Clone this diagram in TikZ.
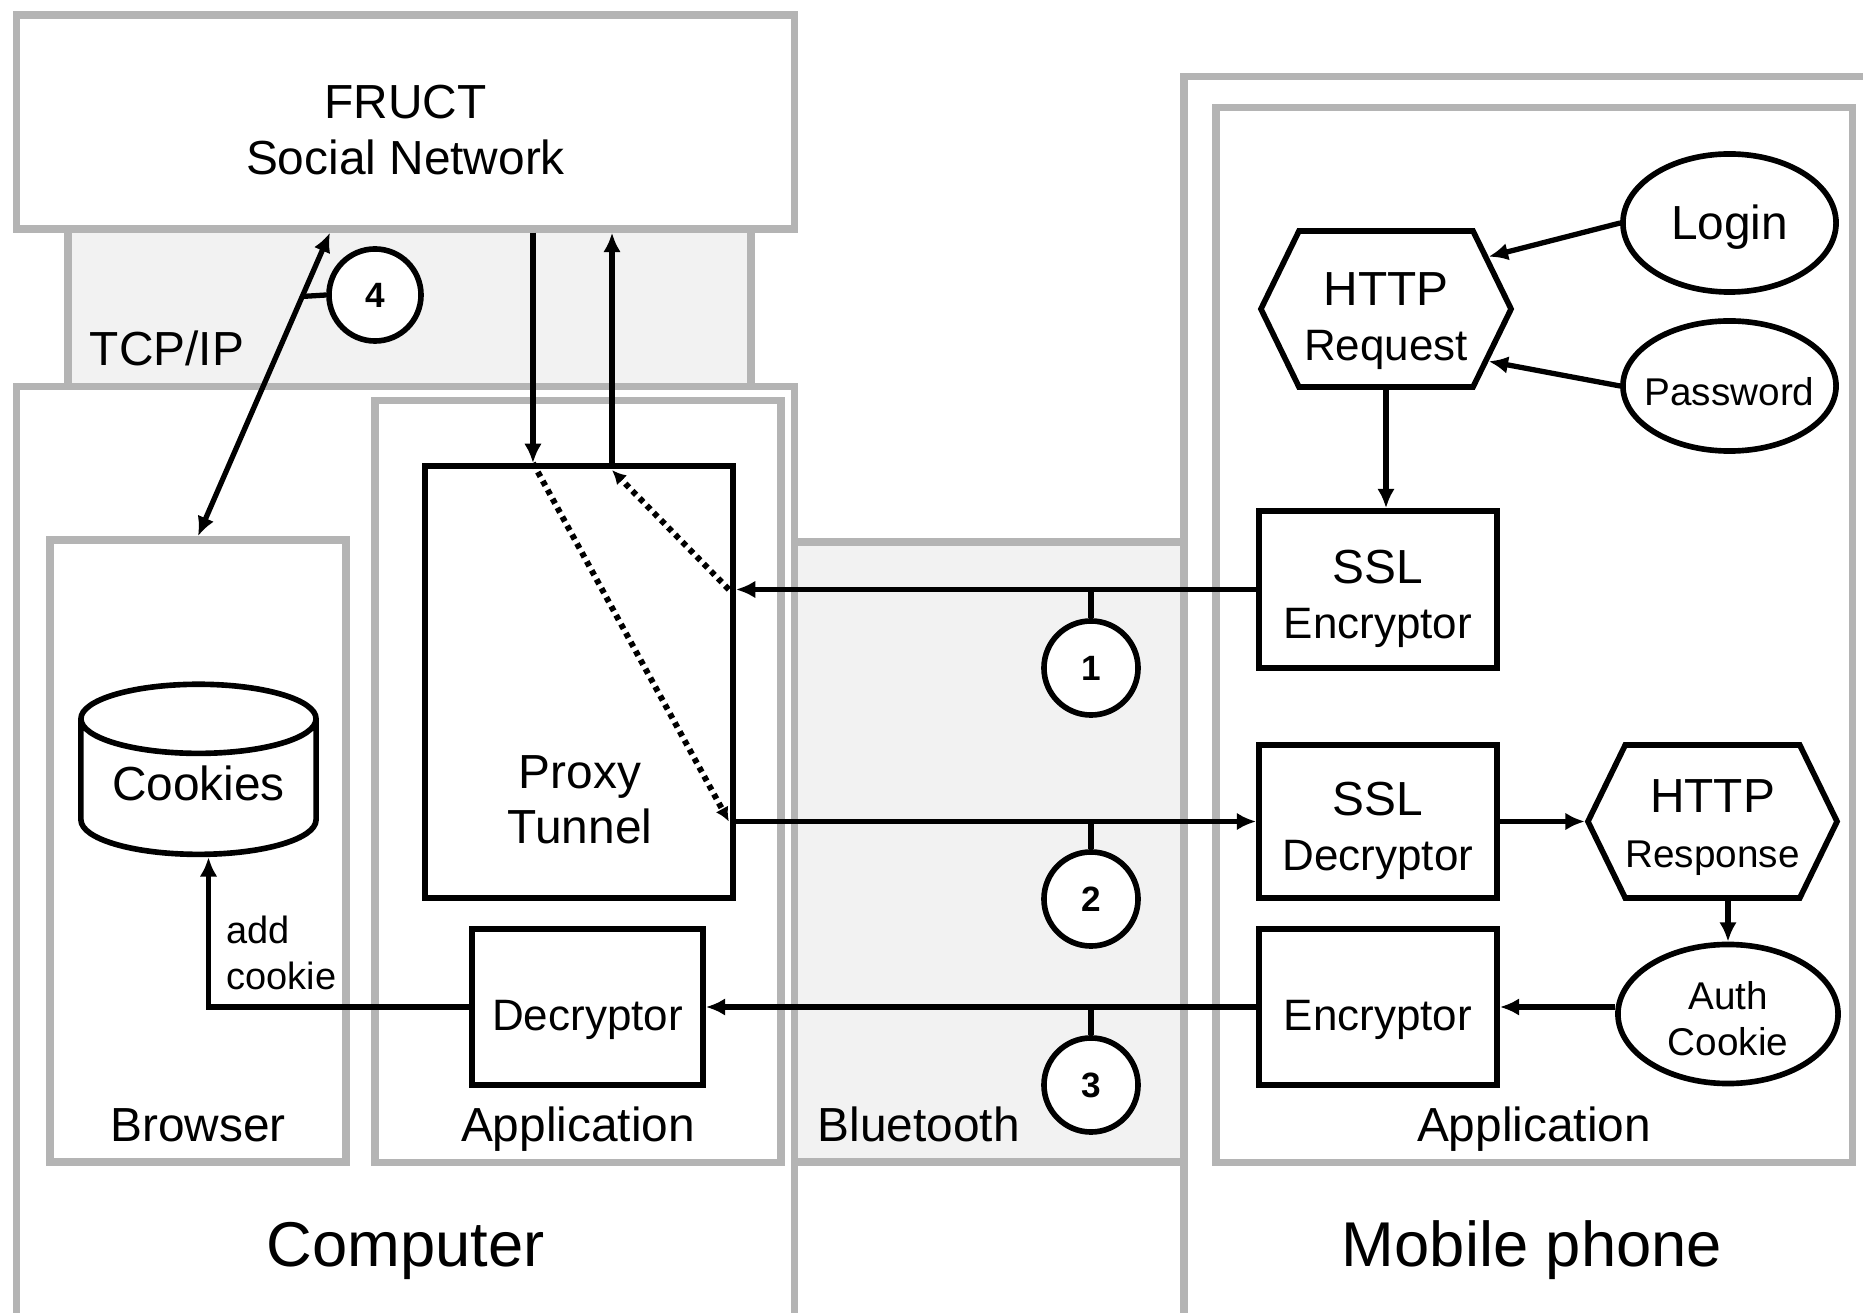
\documentclass[tikz,border=0pt]{standalone}
\usepackage{fontspec}
\setmainfont{Liberation Sans}
\usepackage{tikz}
\usetikzlibrary{shapes.geometric}
\usetikzlibrary{shapes.symbols}
\usetikzlibrary{arrows.meta}

\definecolor{zonegray}{RGB}{180,180,180}
\definecolor{bandgray}{RGB}{242,242,242}

\newcommand{\boxsub}{\fontsize{12.5}{15}\selectfont}
\newcommand{\boxsmall}{\fontsize{11}{13}\selectfont}

\tikzset{
  zone/.style={draw=zonegray, line width=2.1pt, fill=white, inner sep=0pt, align=center},
  band/.style={draw=zonegray, line width=2.1pt, fill=bandgray},
  lbl/.style={inner sep=0pt},
  blk/.style={draw, line width=1.6pt, fill=white, inner sep=0pt, align=center},
  onetxt/.style={text height=16pt},
  twotxt/.style={text height=30.5pt},
  hexa/.style={blk, signal, signal from=nowhere, signal to=east and west, signal pointer angle=128},
  oval/.style={blk, ellipse},
  num/.style={blk, circle, minimum size=0.94cm, font=\fontsize{10}{12}\selectfont\bfseries},
  arr/.style={line width=1.5pt, -{Latex[length=5.5pt,width=5pt]}},
  dbl/.style={line width=1.5pt, {Latex[length=5.5pt,width=5pt]}-{Latex[length=5.5pt,width=5pt]}},
  dots/.style={line width=1.7pt, dash pattern=on 1.5pt off 1.4pt, -{Latex[length=4pt,width=4pt]}},
  tick/.style={line width=1.5pt}
}

\begin{document}
\begin{tikzpicture}[x=0.01cm, y=-0.01cm, font=\fontsize{13.6}{15.8}\selectfont]
    \useasboundingbox (0,0) rectangle (1863,1313);

    % grey bands
    \draw[band] (68,215) rectangle (751,400);
    \draw[band] (794,542) rectangle (1184,1162);

    % containers
    \node[zone, text height=29.8pt, minimum width=7.77cm, minimum height=2.14cm] (fruct) at (405.5,122) {FRUCT\\Social Network};
    \node[zone, minimum width=7.77cm, minimum height=9.33cm] (computer) at (405.5,853.5) {};
    \node[zone, minimum width=6.91cm, minimum height=12.43cm] (phone) at (1529.5,698.5) {};
    \node[zone, minimum width=2.96cm, minimum height=6.22cm] (browser) at (198,851) {};
    \node[zone, minimum width=4.06cm, minimum height=7.61cm] (app) at (578,781.5) {};
    \node[zone, minimum width=6.36cm, minimum height=10.54cm] (mapp) at (1534,635) {};

    \node[lbl, anchor=base] (tcplbl) at (167,366) {TCP/IP};
    \node[lbl, anchor=base] (browserlbl) at (198,1141) {Browser};
    \node[lbl, anchor=base] (applbl) at (578,1141) {Application};
    \node[lbl, anchor=base west] (btlbl) at (817,1141) {Bluetooth};
    \node[lbl, anchor=base] (mapplbl) at (1534,1141) {Application};
    \node[lbl, anchor=base, font=\fontsize{18}{22}\selectfont] (complbl) at (405.5,1266) {Computer};
    \node[lbl, anchor=base, font=\fontsize{18}{22}\selectfont] (phonelbl) at (1532,1266) {Mobile phone};

    % computer side
    \node[blk, minimum width=3.08cm, minimum height=4.32cm] (proxy) at (579,682) {};
    \node[lbl, align=center] (proxytxt) at (580,800) {Proxy\\Tunnel};
    \node[blk, onetxt, minimum width=2.31cm, minimum height=1.56cm, font=\boxsub] (dec) at (587.5,1007) {Decryptor};
    \node[blk, cylinder, shape border rotate=90, aspect=0.4, text height=7.2pt, minimum width=2.35cm, minimum height=1.70cm] (cookies) at (198.5,788) {Cookies};
    \node[lbl, anchor=north west, align=left, font=\fontsize{10.8}{13.2}\selectfont] (addlbl) at (226,915) {add\\cookie};

    % phone side
    \node[hexa, text height=32pt, minimum width=2.50cm, minimum height=1.56cm] (req) at (1386,309) {HTTP\\\boxsub Request};
    \node[oval, text height=12pt, minimum width=2.13cm, minimum height=1.38cm] (login) at (1729.5,223) {Login};
    \node[oval, text height=11pt, minimum width=2.13cm, minimum height=1.30cm, inner xsep=-0.12cm, font=\boxsmall] (password) at (1729.5,386) {Password};
    \node[blk, twotxt, minimum width=2.38cm, minimum height=1.57cm] (sslenc) at (1378,589.5) {SSL\\\boxsub Encryptor};
    \node[blk, twotxt, minimum width=2.38cm, minimum height=1.53cm] (ssldec) at (1378,821.5) {SSL\\\boxsub Decryptor};
    \node[hexa, text height=28.5pt, minimum width=2.49cm, minimum height=1.53cm] (resp) at (1712.5,821.5) {HTTP\\\boxsmall Response};
    \node[blk, onetxt, minimum width=2.38cm, minimum height=1.56cm, font=\boxsub] (enc) at (1378,1007) {Encryptor};
    \node[oval, text height=23.5pt, minimum width=2.20cm, minimum height=1.39cm, font=\boxsmall] (auth) at (1728,1014) {Auth\\Cookie};

    % numbered steps
    \node[num] (c1) at (1091,668) {1};
    \node[num] (c2) at (1091,899) {2};
    \node[num] (c3) at (1091,1085) {3};
    \node[num, minimum size=0.92cm] (c4) at (375,295) {4};

    % connectors
    \coordinate (pin) at ([xshift=-0.46cm]proxy.north);
    \coordinate (pout) at ([xshift=0.33cm]proxy.north);
    \coordinate (pr1) at (proxy.east |- sslenc.west);
    \coordinate (pr2) at (proxy.east |- ssldec.west);
    \draw[arr] (fruct.south -| pin) -- (pin);
    \draw[arr] (pout) -- (fruct.south -| pout);
    \draw[dots] (pin) -- ([xshift=-2pt]pr2);
    \draw[dots] ([xshift=-2pt]pr1) -- ([yshift=-2pt]pout);
    \draw[arr] (sslenc.west) -- (pr1);
    \draw[arr] (pr2) -- (ssldec.west);
    \draw[arr] (enc.west) -- (dec.east);
    \draw[arr] (dec.west) -| ([xshift=0.1cm]cookies.south);
    \draw[dbl] ([xshift=-0.755cm]fruct.south) -- coordinate[pos=0.21] (t4) (browser.north);

    \draw[arr] (login.west) -- (req.27);
    \draw[arr] (password.west) -- (req.-27);
    \draw[arr] (req.south) -- (req.south |- sslenc.north);
    \draw[arr] (ssldec.east) -- (resp.west);
    \draw[arr] (resp.south -| auth.north) -- (auth.north);
    \draw[arr] (enc.east -| auth.west) -- (enc.east);

    \draw[tick] (c1.north) -- (c1.north |- pr1);
    \draw[tick] (c2.north) -- (c2.north |- pr2);
    \draw[tick] (c3.north) -- (c3.north |- dec.east);
    \draw[tick] (c4.west) -- (t4);
\end{tikzpicture}
\end{document}
